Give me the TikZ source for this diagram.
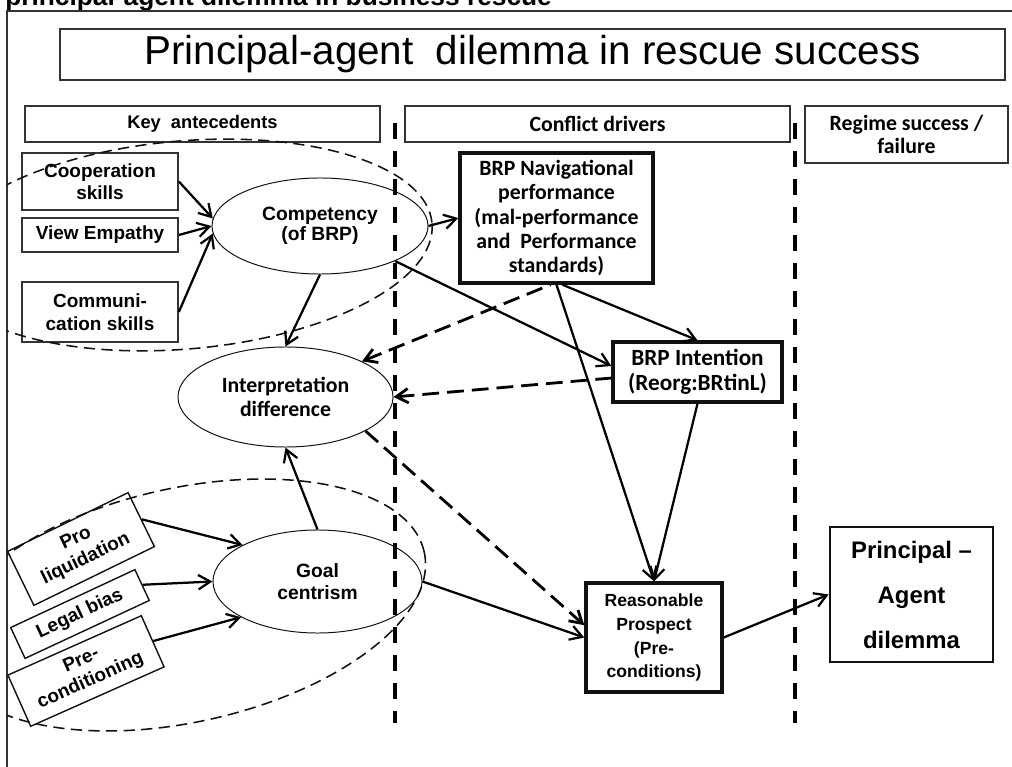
\documentclass[tikz,border=0pt]{standalone}
\usepackage{fontspec}
\setmainfont{Liberation Sans}
\newfontfamily\calib{Carlito}
\usetikzlibrary{arrows.meta,shapes.geometric}
\definecolor{framegray}{HTML}{333333}
\definecolor{inkblack}{HTML}{111111}

\tikzset{
  box/.style={draw=framegray, line width=1.2pt, inner sep=0pt, align=center},
  boldbox/.style={draw=inkblack, line width=2.4pt, inner sep=0pt, align=center},
  oval/.style={ellipse, draw=inkblack, line width=0.7pt, inner sep=0pt, align=center},
  tilted/.style={draw=inkblack, line width=1pt, inner sep=0pt, align=center,
    font=\bfseries\fontsize{13.5}{16}\selectfont},
  arr/.style={line width=1.6pt, -{Straight Barb[length=3mm,width=3.6mm]}},
  dasharr/.style={line width=2pt, dash pattern=on 4.2mm off 2mm,
    -{Straight Barb[length=3mm,width=3.6mm]}},
  groupline/.style={line width=1.1pt, dash pattern=on 2.8mm off 1.6mm, draw=inkblack},
  colline/.style={line width=2.5pt, dash pattern=on 4mm off 3mm}
}

\begin{document}
\begin{tikzpicture}[x=0.025cm, y=-0.025cm]
  \useasboundingbox (0,0) rectangle (1012,767);

  % ---- Caption and frame -------------------------------------
  \node[font=\bfseries\fontsize{18.7}{22}\selectfont, anchor=base west, inner sep=0pt]
    (caption) at (5,6) {principal-agent dilemma in business rescue};
  \draw[line width=1.3pt, framegray] (7,800) -- (7,11) -- (1020,11);

  % ---- Title and column headers ------------------------------
  \node[box, minimum width=23.625cm, minimum height=1.275cm,
    font=\fontsize{28.7}{32}\selectfont] (title) at (532.5,54.5)
    {Principal-agent \ dilemma in rescue success};
  \node[box, minimum width=8.875cm, minimum height=0.9cm,
    font=\bfseries\fontsize{13}{15}\selectfont] (keyhead) at (202.5,124)
    {Key \ antecedents};
  \node[box, minimum width=9.625cm, minimum height=0.9cm,
    font=\calib\bfseries\fontsize{15.5}{17}\selectfont] (confhead) at (597.5,124)
    {Conflict drivers};
  \node[box, minimum width=5.075cm, minimum height=1.425cm,
    font=\calib\bfseries\fontsize{15.5}{16}\selectfont] (regimehead) at (906.5,134.5)
    {Regime success /\\failure};

  % column separators
  \draw[colline] (395,123) -- (395,723);
  \draw[colline] (795,123) -- (795,723);

  % ---- Key antecedents ---------------------------------------
  \node[box, minimum width=3.9cm, minimum height=1.425cm,
    font=\bfseries\fontsize{13.5}{16}\selectfont] (coop) at (100,181.5)
    {Cooperation\\skills};
  \node[box, minimum width=3.9cm, minimum height=0.85cm,
    font=\bfseries\fontsize{13.5}{16}\selectfont] (view) at (100,235)
    {View Empathy};
  \node[box, minimum width=3.9cm, minimum height=1.5cm,
    font=\bfseries\fontsize{13.5}{16}\selectfont] (comm) at (100,312)
    {Communi-\\cation skills};

  \node[oval, minimum width=5.4cm, minimum height=2.4cm,
    font=\bfseries\fontsize{13.7}{14.5}\selectfont] (comp) at (320,226)
    {Competency\\(of BRP)};
  \node[oval, minimum width=5.375cm, minimum height=2.5cm,
    font=\calib\bfseries\fontsize{15.5}{17}\selectfont] (interp) at (285.5,397)
    {Interpretation\\difference};
  \node[oval, minimum width=5.225cm, minimum height=2.575cm,
    font=\bfseries\fontsize{13.7}{15.4}\selectfont] (goal) at (317.5,581.5)
    {Goal\\centrism};

  \node[tilted, minimum width=3.35cm, minimum height=1.5cm, rotate=26]
    (proliq) at (81,549) {Pro\\liquidation};
  \node[tilted, minimum width=3.425cm, minimum height=0.85cm, rotate=25]
    (legal) at (80,614) {Legal bias};
  \node[tilted, minimum width=3.65cm, minimum height=1.4cm, rotate=24]
    (precond) at (86,671) {Pre-\\conditioning};

  % grouping ovals, cut at the frame
  \begin{scope}
    \clip (7,11) rectangle (1012,767);
    \draw[groupline, rotate around={5:(184,245)}] (184,245) ellipse [x radius=249, y radius=104];
    \draw[groupline, rotate around={12.5:(185,605)}] (185,605) ellipse [x radius=245, y radius=117];
  \end{scope}

  % ---- Conflict drivers --------------------------------------
  \node[boldbox, minimum width=4.825cm, minimum height=3.25cm,
    font=\calib\bfseries\fontsize{15.5}{17.2}\selectfont] (nav) at (556.5,218)
    {BRP Navigational\\performance\\(mal-performance\\and \ Performance\\standards)};
  \node[boldbox, minimum width=4.225cm, minimum height=1.5cm,
    font=\calib\bfseries\fontsize{16.5}{18}\selectfont] (intent) at (697.5,372)
    {BRP Intention\\(Reorg:BRtinL)};
  \node[boldbox, minimum width=3.4cm, minimum height=2.725cm,
    font=\bfseries\fontsize{12.5}{17}\selectfont] (prosp) at (654,637.5)
    {Reasonable\\Prospect\\(Pre-\\conditions)};

  % ---- Regime outcome ----------------------------------------
  \node[boldbox, line width=2pt, minimum width=4.075cm, minimum height=3.375cm,
    font=\bfseries\fontsize{17}{32}\selectfont] (pa) at (911.5,594.5)
    {Principal --\\Agent\\dilemma};

  % ---- Links -------------------------------------------------
  \draw[arr] (coop.east) -- (comp.176);
  \draw[arr] (view.east) -- (comp.west);
  \draw[arr] (comm.east) -- (comp.184);
  \draw[arr] (comp.south) -- (interp.north);
  \draw[arr] (comp.east) -- (nav.west);
  \draw[arr] (comp.-25) -- (intent.176);

  \draw[arr] (proliq.east) -- (goal.154);
  \draw[arr] (legal.east) -- (goal.west);
  \draw[arr] (precond.east) -- (goal.205);
  \draw[arr, {Straight Barb[length=3mm,width=3.6mm]}-] (interp.south) -- (goal.north);

  \draw[dasharr, {Straight Barb[length=3mm,width=3.6mm]}-] (interp.25) -- (nav.-95);
  \draw[dasharr, {Straight Barb[length=3mm,width=3.6mm]}-] (interp.east) -- (intent.184);
  \draw[dasharr] (interp.-23) -- (prosp.170);

  \draw[arr] (nav.-85) -- (intent.north);
  \draw[arr] (nav.south) -- (prosp.north);
  \draw[arr] (intent.south) -- (prosp.north);
  \draw[arr] (goal.east) -- (prosp.west);
  \draw[arr] (prosp.east) -- (pa.west);

\end{tikzpicture}
\end{document}
